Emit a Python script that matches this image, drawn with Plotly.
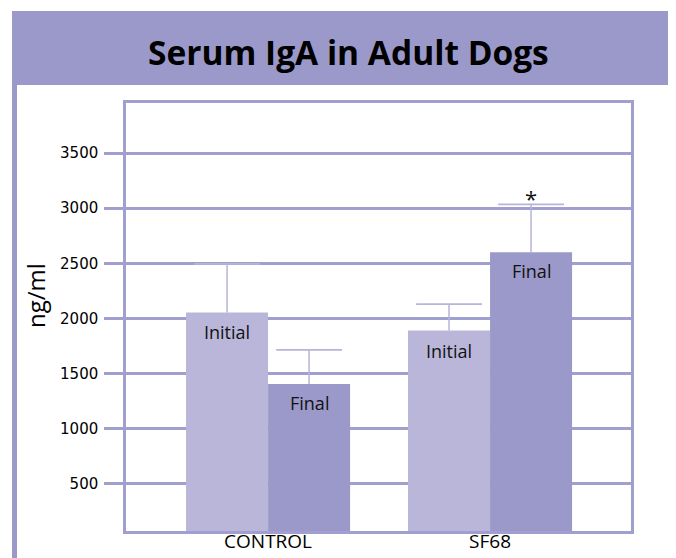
import plotly.graph_objects as go

categories = ["CONTROL", "SF68"]
initial_values = [2055, 1890]
initial_err_plus = [440, 240]
final_values = [1405, 2600]
final_err_plus = [310, 435]
series_names = ["Initial", "Final"]
y_tick_values = [500, 1000, 1500, 2000, 2500, 3000, 3500]
y_tick_labels = ["500", "1000", "1500", "2000", "2500", "3000", "3500"]
significant = [False, True]  # final vs initial

# page body has an 8px margin; work in reference-screen pixels and shift
OFF = 8
W, H = 676 - OFF, 558 - OFF
ML, MT = 126 - OFF, 103 - OFF
PW, PH = 631 - 126, 531 - 103
MR, MB = W - ML - PW, H - MT - PH

def px_x(px):
    return (px - OFF - ML) / PW

def px_y(py):
    return (MT + PH - (py - OFF)) / PH

C_FRAME = "#9b99c9"
C_INIT = "#b9b6d9"
C_FINAL = "#9b99c9"
C_GRID = "#a19fcf"
C_ERR = "#b6b4d8"
FONT = "Open Sans"

pos = list(range(len(categories)))
BARGAP = 0.261
half = (1 - BARGAP) / 4  # offset of each bar centre from category centre

fig = go.Figure()
series = [
    (series_names[0], initial_values, initial_err_plus, C_INIT, -half),
    (series_names[1], final_values, final_err_plus, C_FINAL, +half),
]
for name, vals, errs, col, off in series:
    fig.add_trace(go.Bar(
        x=pos, y=vals, name=name,
        marker=dict(color=col, line=dict(width=0)),
        error_y=dict(type="data", symmetric=False, array=errs,
                     arrayminus=[0] * len(errs), color=C_ERR,
                     thickness=1.5, width=0),
    ))
# top caps of the (upper-only) error bars
for name, vals, errs, col, off in series:
    fig.add_trace(go.Scatter(
        x=[p + off for p in pos], y=[v + e for v, e in zip(vals, errs)],
        mode="markers", hoverinfo="skip",
        marker=dict(symbol="line-ew", size=47, color=C_ERR,
                    line=dict(color=C_ERR, width=1.8)),
    ))

annotations = []
for i, cat in enumerate(categories):
    annotations.append(dict(x=pos[i] - half, y=initial_values[i], xref="x", yref="y",
                            text=series_names[0], showarrow=False, yanchor="middle",
                            yshift=-20, font=dict(family=FONT, size=18, color="#111")))
    annotations.append(dict(x=pos[i] + half, y=final_values[i], xref="x", yref="y",
                            text=series_names[1], showarrow=False, yanchor="middle",
                            yshift=-19, font=dict(family=FONT, size=18, color="#111")))
    if significant[i]:
        annotations.append(dict(x=pos[i] + half, y=final_values[i] + final_err_plus[i],
                                xref="x", yref="y", text="*", showarrow=False,
                                yanchor="middle", yshift=6,
                                font=dict(family=FONT, size=22, color="#111")))

annotations.append(dict(x=px_x(348), y=px_y(52), xref="paper", yref="paper",
                        text="<b>Serum IgA in Adult Dogs</b>", showarrow=False,
                        xanchor="center", yanchor="middle",
                        font=dict(family=FONT, size=33.5, color="#000")))
annotations.append(dict(x=px_x(35), y=px_y(296), xref="paper", yref="paper",
                        text="ng/ml", showarrow=False, textangle=-90,
                        xanchor="center", yanchor="middle",
                        font=dict(family=FONT, size=24, color="#000")))

shapes = [
    dict(type="rect", xref="paper", yref="paper", layer="below",
         x0=px_x(12), x1=px_x(700), y0=px_y(600), y1=px_y(11),
         fillcolor=C_FRAME, line=dict(width=0)),
    dict(type="rect", xref="paper", yref="paper", layer="below",
         x0=px_x(17), x1=px_x(673), y0=px_y(600), y1=px_y(85),
         fillcolor="white", line=dict(width=0)),
]

fig.update_layout(
    width=W, height=H,
    margin=dict(l=ML, r=MR, t=MT, b=MB, pad=0, autoexpand=False),
    paper_bgcolor="white", plot_bgcolor="white",
    barmode="group", bargap=BARGAP, bargroupgap=0,
    showlegend=False,
    annotations=annotations, shapes=shapes,
    xaxis=dict(range=[-0.640, 1.635], tickmode="array", tickvals=pos,
               ticktext=categories, showgrid=False, zeroline=False,
               automargin=False,
               showline=True, mirror=True, linecolor=C_GRID, linewidth=2.5,
               ticks="", ticklabelstandoff=-9,
               tickfont=dict(family=FONT, size=19, color="#000"),
               fixedrange=True),
    yaxis=dict(range=[73, 3954], tickmode="array", tickvals=y_tick_values,
               automargin=False,
               ticktext=y_tick_labels, showgrid=True, gridcolor=C_GRID,
               gridwidth=2.5, zeroline=False, showline=True, mirror=True,
               linecolor=C_GRID, linewidth=2.5, ticks="outside", ticklen=19,
               tickcolor=C_GRID, tickwidth=2.5, ticklabelstandoff=3,
               tickfont=dict(family="DejaVu Sans", size=15, color="#000"),
               fixedrange=True),
)

fig.write_html("out.html")
